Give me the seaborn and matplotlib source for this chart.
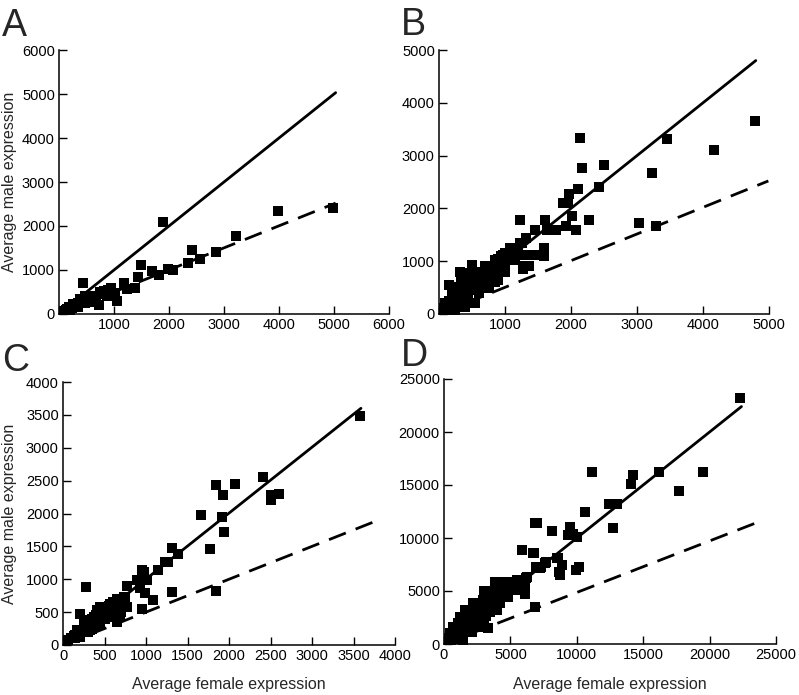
import matplotlib
matplotlib.use("Agg")
import matplotlib.pyplot as plt
import seaborn as sns
import pandas as pd

# ---------------- data ----------------
# Panel A
a_female = [4990, 3980, 3210, 1900, 2860, 2420, 2570, 2340, 1990, 2080,
            1690, 1810, 1490, 1440, 1380, 1180, 1230, 1050, 900, 870,
            750, 720, 600, 470, 430, 350, 300, 230, 180, 110,
            60, 30, 950, 800, 650, 520, 400, 260, 150, 90,
            1020, 820, 680, 560, 480, 380, 340, 250, 200, 130,
            100, 50]
a_male = [2410, 2330, 1780, 2100, 1410, 1460, 1240, 1170, 1020, 1010,
          970, 890, 1110, 830, 590, 700, 560, 300, 550, 400,
          510, 200, 280, 400, 710, 240, 200, 130, 150, 60,
          30, 20, 580, 450, 350, 330, 280, 170, 110, 60,
          470, 520, 280, 420, 250, 330, 170, 220, 100, 90,
          40, 50]

# Panel B
b_female = [4790, 4160, 3450, 3220, 3030, 3290, 2130, 2160, 2500, 2420,
            2100, 1970, 1880, 1955, 2020, 2070, 2270, 1930, 1780, 1630,
            1600, 1450, 1220, 1590, 1590, 1450, 1370, 1270, 1320, 1220,
            1070, 940, 1100, 975, 850, 700, 500, 320, 150, 440,
            340, 240, 190, 90, 40, 545, 700, 900, 1050, 440,
            290, 600, 950, 1150, 750, 545, 390, 240, 800, 1250,
            1300, 1280,
            100, 200, 300, 350, 450, 500, 600, 650, 150, 250,
            400, 550, 650, 800, 850, 900, 1000, 750,
            600, 700, 500, 400, 300, 200, 100, 50, 700, 800,
            900, 1000, 1100, 1200, 900, 650, 550, 450, 350, 250,
            150, 750, 850, 1000]
b_male = [3660, 3100, 3310, 2670, 1730, 1660, 3340, 2760, 2830, 2400,
          2360, 2280, 2100, 2100, 1860, 1600, 1780, 1660, 1600, 1600,
          1780, 1600, 1780, 1250, 1090, 1120, 910, 900, 1440, 1340,
          1250, 1090, 1240, 1120, 1020, 830, 930, 800, 550, 770,
          640, 520, 330, 200, 110, 580, 520, 770, 1020, 330,
          260, 390, 900, 1020, 710, 200, 140, 80, 900, 1340,
          1120, 860,
          50, 150, 200, 350, 450, 600, 650, 500, 250, 400,
          600, 750, 800, 700, 600, 650, 800, 500,
          800, 900, 800, 700, 500, 400, 200, 100, 600, 800,
          900, 950, 1100, 1200, 1050, 700, 600, 550, 450, 300,
          150, 750, 950, 1150]

# Panel C
c_female = [3580, 2410, 2500, 2510, 2600, 2070, 1840, 1930, 1910, 1940,
            1770, 1660, 1840, 1310, 1390, 1230, 1270, 1140, 950, 970,
            1010, 1090, 990, 950, 1310, 770, 280, 200, 890, 930,
            730, 650, 570, 450, 490, 610, 690, 650, 530, 410,
            370, 290, 210, 130, 65, 25, 330, 450, 770, 710,
            570, 370, 250, 170, 410, 750,
            100, 150, 300, 400, 500, 600, 700, 350, 550, 650,
            450, 200,
            300, 350, 400, 450, 500, 550, 600, 650, 700, 500,
            600, 700, 250, 200, 150, 350, 450, 550, 650, 300,
            400, 700]
c_male = [3490, 2550, 2280, 2200, 2290, 2450, 2430, 2280, 1950, 1720,
          1460, 1970, 820, 1470, 1390, 1260, 1260, 1140, 1140, 1110,
          990, 690, 790, 550, 800, 890, 880, 470, 990, 860,
          730, 680, 630, 580, 530, 530, 430, 350, 430, 430,
          330, 280, 180, 130, 75, 35, 230, 300, 580, 610,
          430, 430, 380, 230, 530, 710,
          100, 150, 300, 380, 450, 600, 650, 250, 500, 560,
          350, 120,
          350, 400, 450, 500, 550, 600, 650, 700, 700, 400,
          500, 600, 250, 200, 100, 300, 400, 450, 620, 200,
          300, 500]

# Panel D
d_female = [22310, 19490, 17730, 16170, 14210, 14060, 12450, 13050, 12700, 11120,
            10590, 10160, 9930, 9480, 9360, 9990, 9730, 8730, 8900, 8600,
            8100, 7650, 7340, 6920, 6840, 6720, 6840, 5910, 6110, 6210,
            6990, 6740, 7240, 7620, 8500, 8630, 6110, 6240, 5730, 5110,
            4600, 3850, 3850, 4730, 5360, 4350, 3470, 2970, 3350, 2720,
            2470, 2210, 2970, 2090, 1710, 1580, 1210, 1080, 700, 450,
            200, 1460, 3350, 2720, 2090, 1460, 960, 2470, 1960, 3970,
            4850, 4230, 5480,
            500, 1000, 1500, 2000, 2500, 3000, 3500, 4000, 4500, 1200,
            1800, 2600, 3200, 800, 300, 4200,
            2000, 2500, 3000, 3500, 3500, 4000, 4500, 4000, 3000, 2500,
            2000, 1500, 1000, 500, 1500, 2500, 3000, 3500, 4500, 5000,
            5500, 3000, 2000, 1000]
d_male = [23200, 16220, 14390, 16220, 15960, 15080, 13190, 13190, 10990, 16180,
          12410, 7310, 6990, 11080, 10300, 10140, 10390, 6550, 7460, 8090,
          10700, 7780, 7310, 7310, 11460, 8560, 3530, 8880, 4720, 6200,
          11400, 8560, 7150, 7620, 8090, 6830, 5420, 6360, 5890, 5890,
          5890, 5890, 5100, 5100, 5100, 4470, 4470, 4160, 3530, 3530,
          2900, 3840, 2900, 2580, 2270, 3210, 2580, 1950, 1640, 1010,
          540, 60, 1480, 1640, 1170, 1010, 690, 1950, 1800, 3210,
          4470, 3840, 6050,
          300, 1000, 1200, 2000, 2300, 3300, 3000, 4500, 5000, 600,
          1400, 2700, 2600, 900, 200, 4000,
          2500, 3000, 3500, 4000, 5000, 5500, 5500, 4000, 4000, 3500,
          3000, 2000, 1500, 800, 1500, 2000, 2000, 3500, 4500, 5500,
          5500, 5000, 1500, 500]

# reference lines from origin: solid = equal expression, dashed = half expression
solid_x = {"A": [0, 5030], "B": [0, 4800], "C": [0, 3590], "D": [0, 22400]}
solid_y = {"A": [0, 5030], "B": [0, 4800], "C": [0, 3600], "D": [0, 22400]}
dashed_x = {"A": [0, 5030], "B": [0, 4990], "C": [0, 3770], "D": [0, 23570]}
dashed_y = {"A": [0, 2520], "B": [0, 2520], "C": [0, 1885], "D": [0, 11460]}

axis_max = {"A": 6000, "B": 5000, "C": 4000, "D": 25000}
tick_step = {"A": 1000, "B": 1000, "C": 500, "D": 5000}
panel_data = {"A": (a_female, a_male), "B": (b_female, b_male),
              "C": (c_female, c_male), "D": (d_female, d_male)}

xlabel_text = "Average female expression"
ylabel_text = "Average male expression"

# ---------------- style ----------------
sns.set_theme(style="ticks")
plt.rcParams["font.family"] = ["Liberation Sans", "DejaVu Sans"]
plt.rcParams["axes.linewidth"] = 1.1
plt.rcParams["axes.edgecolor"] = "black"

W, H = 799, 695
fig = plt.figure(figsize=(W / 100, H / 100), dpi=100)

# axes rectangles in pixels: left, top, right, bottom
rects = {"A": (59, 50, 389, 314), "B": (439, 50, 769, 314),
         "C": (63, 382, 395, 645), "D": (444, 379, 776, 644)}
# panel letter: left x, baseline y (pixels)
label_pos = {"A": (2, 36), "B": (401, 35), "C": (2, 371), "D": (401, 366)}

for key in ["A", "B", "C", "D"]:
    l, t, r, b = rects[key]
    ax = fig.add_axes([l / W, 1 - b / H, (r - l) / W, (b - t) / H])
    fx, my = panel_data[key]
    df = pd.DataFrame({"female": fx, "male": my})
    sns.lineplot(x=solid_x[key], y=solid_y[key], ax=ax, color="black",
                 linewidth=2.0, estimator=None, sort=False)
    ax.plot(dashed_x[key], dashed_y[key], color="black", linewidth=2.0,
            linestyle=(0, (6.5, 3.8)))
    sns.scatterplot(data=df, x="female", y="male", ax=ax, marker="s", s=60,
                    color="black", linewidth=0, zorder=3)
    m = axis_max[key]
    st = tick_step[key]
    ticks = list(range(0, m + 1, st))
    ax.set_xlim(0, m)
    ax.set_ylim(0, m)
    ax.set_xticks(ticks)
    ax.set_yticks(ticks)
    ax.set_yticklabels([str(v) for v in ticks])
    if key in ("A", "B"):
        ax.set_xticklabels([""] + [str(v) for v in ticks[1:]])
    else:
        ax.set_xticklabels([str(v) for v in ticks])
    ax.tick_params(direction="in", length=5.5, width=1.0, labelsize=10.5,
                   pad=3, colors="black")
    for sp in ["top", "right"]:
        ax.spines[sp].set_visible(False)
    ax.set_facecolor("white")
    if key in ("A", "C"):
        ax.set_ylabel(ylabel_text, fontsize=11.5)
        ax.yaxis.set_label_coords((17 - l) / (r - l), 0.5)
    else:
        ax.set_ylabel("")
    if key in ("C", "D"):
        ax.set_xlabel(xlabel_text, fontsize=11.5)
        ax.xaxis.set_label_coords(0.5, (b - 677) / (b - t))
    else:
        ax.set_xlabel("")
    lx, ly = label_pos[key]
    fig.text(lx / W, 1 - ly / H, key, fontsize=27, ha="left", va="baseline")

fig.savefig("out.png", dpi=100, facecolor="white")
